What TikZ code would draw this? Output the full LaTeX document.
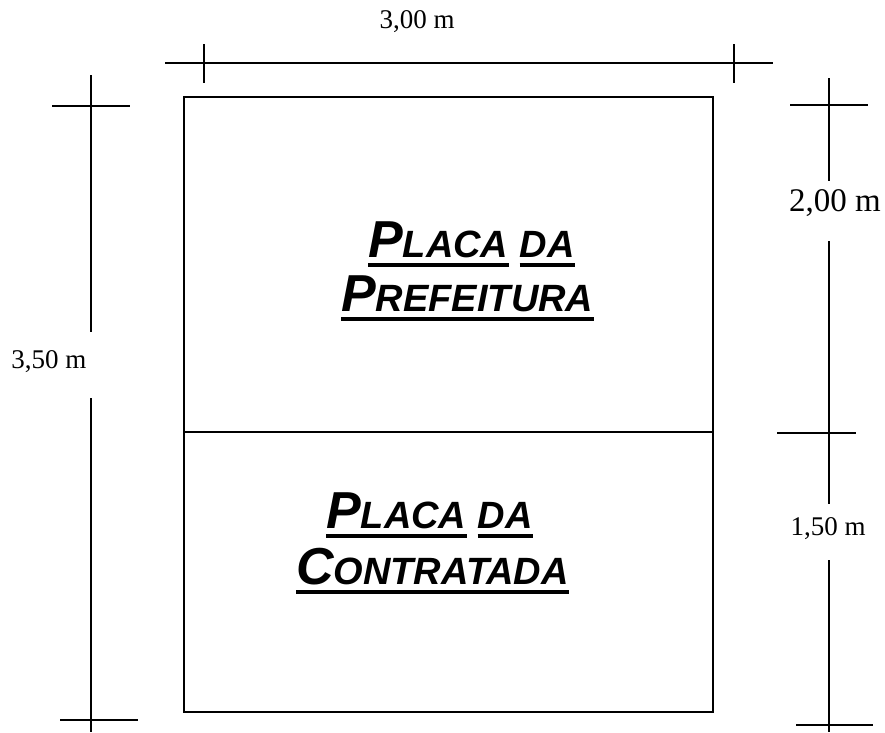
\documentclass[tikz,border=0pt]{standalone}
\usepackage{fontspec}
\setmainfont{Liberation Serif}
\newfontfamily\placafont{Liberation Sans}
\usetikzlibrary{positioning}

\newcommand{\capgrande}[1]{{\fontsize{52}{52}\selectfont #1}}
\newcommand{\capmenor}[1]{{\fontsize{38}{38}\selectfont #1}}

\tikzset{
	cota/.style={line width=1.6pt},
	placa/.style={line width=2.4pt},
	word/.style={inner sep=0pt, font=\placafont\bfseries\itshape},
	uline/.style={line width=4.5pt},
	medida/.style={inner sep=0pt, anchor=base, font=\fontsize{27}{27}\selectfont}
}

\begin{document}
\begin{tikzpicture}[x=1pt,y=-1pt]
		\useasboundingbox (0,0) rectangle (885,732);

		% the two plates
		\coordinate (tl) at (184,97);
		\coordinate (br) at (713,712);
		\coordinate (ml) at (184,432);
		\coordinate (mr) at (713,432);
		\draw[placa] (tl) rectangle (br);
		\draw[placa] (ml) -- (mr);

		\node[word, anchor=base west] (pl1) at (368,257)
		{\capgrande{P}\capmenor{LACA}};
		\node[word, base right=11pt of pl1] (da1) {\capmenor{DA}};
		\node[word, anchor=base west] (pref) at (341,311)
		{\capgrande{P}\capmenor{REFEITURA}};

		\node[word, anchor=base west] (pl2) at (326,528)
		{\capgrande{P}\capmenor{LACA}};
		\node[word, base right=11pt of pl2] (da2) {\capmenor{DA}};
		\node[word, anchor=base west] (contr) at (296,584)
		{\capgrande{C}\capmenor{ONTRATADA}};

		\foreach \w in {pl1,da1,pref,pl2,da2,contr}
			\draw[uline] ([yshift=-8pt]\w.base west) -- ([yshift=-8pt]\w.base east);

		% width
		\node[medida] (largura) at (417,28) {3,00 m};
		\coordinate (h0) at (165,63);
		\coordinate (h1) at (773,63);
		\draw[cota] (h0) -- (h1);
		\draw[cota] (204,44) -- (204,83);
		\draw[cota] (734,44) -- (734,83);

		% total height
		\node[medida] (altura) at (49,368) {3,50 m};
		\draw[cota] (91,75) -- (91,332);
		\draw[cota] (91,398) -- (91,732);
		\draw[cota] (52,106) -- (130,106);
		\draw[cota] (60,720) -- (138,720);

		% partial heights
		\node[medida, font=\fontsize{33}{33}\selectfont] (alt1) at (835,211) {2,00 m};
		\node[medida] (alt2) at (828,535) {1,50 m};
		\draw[cota] (829,78) -- (829,181);
		\draw[cota] (829,241) -- (829,504);
		\draw[cota] (829,560) -- (829,732);
		\draw[cota] (790,105) -- (868,105);
		\draw[cota] (777,433) -- (856,433);
		\draw[cota] (796,725) -- (873,725);
\end{tikzpicture}
\end{document}
